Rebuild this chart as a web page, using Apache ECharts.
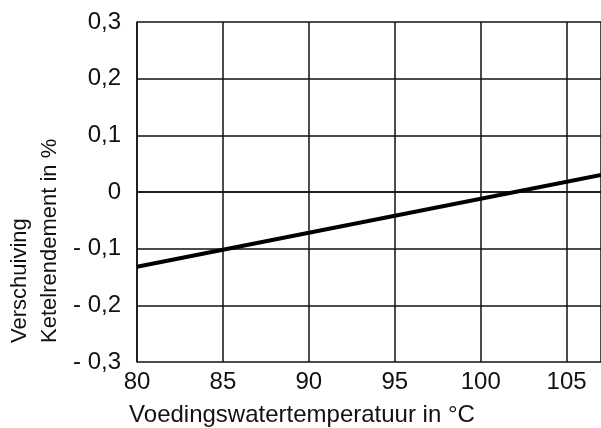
<!DOCTYPE html>
<html>
<head>
<meta charset="utf-8">
<script src="https://cdn.jsdelivr.net/npm/echarts@6/dist/echarts.min.js"></script>
<style>html,body{margin:0;padding:0;background:#fff}#c{width:601px;height:428px}</style>
</head>
<body>
<div id="c"></div>
<script>
var xTicks = [80, 85, 90, 95, 100, 105];
var temperature = [80, 107];
var efficiencyShift = [-0.132, 0.030];
var xTitle = 'Voedingswatertemperatuur in °C';
var yTitleLines = ['Verschuiving', 'Ketelrendement in %'];

var FONT = 'Liberation Sans, Arial, sans-serif';
var chart = echarts.init(document.getElementById('c'), null, {renderer: 'canvas'});
function fmtY(v) {
  var r = Math.round(v * 10) / 10;
  if (Math.abs(r) < 1e-9) return '0';
  var s = Math.abs(r).toFixed(1).replace('.', ',');
  return r < 0 ? '- ' + s : s;
}
chart.setOption({
  animation: false,
  grid: {left: 137, right: -3, top: 22, bottom: 66, containLabel: false},
  xAxis: {
    type: 'value', min: 80, max: 107, interval: 5,
    axisLine: {show: true, lineStyle: {color: '#111', width: 1.5}},
    axisTick: {show: false},
    splitLine: {show: true, lineStyle: {color: '#111', width: 1.5}},
    axisLabel: {show: true, showMaxLabel: false, color: '#111', fontFamily: FONT, fontSize: 24, margin: 8,
      formatter: function (v) { return xTicks.indexOf(v) >= 0 ? String(v) : ''; }}
  },
  yAxis: {
    type: 'value', min: -0.3, max: 0.3, interval: 0.1,
    axisLine: {show: true, lineStyle: {color: '#111', width: 1.5}},
    axisTick: {show: false},
    splitLine: {show: true, lineStyle: {color: '#111', width: 1.5}},
    axisLabel: {color: '#111', fontFamily: FONT, fontSize: 24, margin: 16, formatter: fmtY}
  },
  series: [{
    type: 'line',
    data: temperature.map(function (t, i) { return [t, efficiencyShift[i]]; }),
    showSymbol: false,
    lineStyle: {color: '#000', width: 4},
    clip: true
  }],
  graphic: [
    {type: 'text', x: 302, y: 415, style: {text: xTitle, font: '24px ' + FONT, fill: '#111', textAlign: 'center', textVerticalAlign: 'middle'}},
    {type: 'text', x: 20, y: 343, rotation: Math.PI / 2, style: {text: yTitleLines[0], font: '22px ' + FONT, fill: '#111', textAlign: 'left', textVerticalAlign: 'middle'}},
    {type: 'text', x: 50, y: 343, rotation: Math.PI / 2, style: {text: yTitleLines[1], font: '22px ' + FONT, fill: '#111', textAlign: 'left', textVerticalAlign: 'middle'}}
  ]
});
</script>
</body>
</html>
